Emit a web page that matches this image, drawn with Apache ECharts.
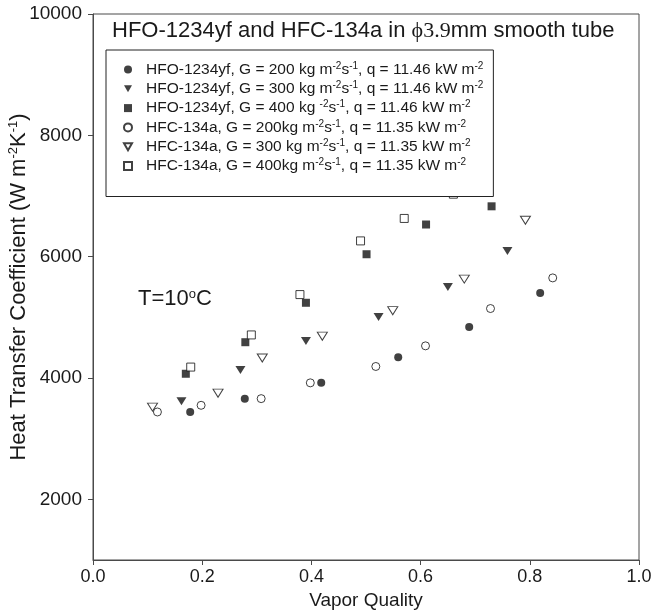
<!DOCTYPE html>
<html>
<head>
<meta charset="utf-8">
<script src="https://cdn.jsdelivr.net/npm/echarts@6/dist/echarts.min.js"></script>
<style>
html,body{margin:0;padding:0;background:#fff;}
#chart{width:651px;height:612px;}
</style>
</head>
<body>
<div id="chart"></div>
<script>
// ---- data ----
const hfo200X = [0.178, 0.278, 0.418, 0.559, 0.689, 0.819];
const hfo200Y = [3440, 3660, 3920, 4340, 4840, 5400];
const hfo300X = [0.162, 0.270, 0.390, 0.523, 0.650, 0.759];
const hfo300Y = [3615, 4130, 4610, 5005, 5500, 6095];
const hfo400X = [0.170, 0.279, 0.390, 0.501, 0.610, 0.730];
const hfo400Y = [4070, 4590, 5240, 6040, 6530, 6830];
const hfc200X = [0.118, 0.198, 0.308, 0.398, 0.518, 0.609, 0.728, 0.842];
const hfc200Y = [3440, 3550, 3660, 3920, 4190, 4530, 5145, 5650];
const hfc300X = [0.109, 0.229, 0.310, 0.420, 0.549, 0.680, 0.792];
const hfc300Y = [3520, 3750, 4330, 4690, 5110, 5630, 6600];
const hfc400X = [0.179, 0.290, 0.379, 0.490, 0.570, 0.660];
const hfc400Y = [4180, 4710, 5375, 6260, 6630, 7030];

const seriesNames = [
  'HFO-1234yf, G = 200 kg m^-2s^-1, q = 11.46 kW m^-2',
  'HFO-1234yf, G = 300 kg m^-2s^-1, q = 11.46 kW m^-2',
  'HFO-1234yf, G = 400 kg ^-2s^-1, q = 11.46 kW m^-2',
  'HFC-134a, G = 200kg m^-2s^-1, q = 11.35 kW m^-2',
  'HFC-134a, G = 300 kg m^-2s^-1, q = 11.35 kW m^-2',
  'HFC-134a, G = 400kg m^-2s^-1, q = 11.35 kW m^-2'
];
const yTicks = [2000, 4000, 6000, 8000, 10000];

// ---- helpers ----
function pairs(xs, ys) { return xs.map((x, i) => [x, ys[i]]); }
function richify(s) { return s.replace(/\^(-\d)/g, '{sup|$1}'); }

const SANS = 'Liberation Sans, Arial, Helvetica, sans-serif';
const INK = '#1a1a1a';
const AXIS = '#4a4a4a';
const DOWN = 'path://M0,0L10,0L5,8.66Z';

const filled = { color: '#111' };
const open = { color: '#fff', borderColor: '#111', borderWidth: 1 };

const seriesDefs = [
  { data: pairs(hfo200X, hfo200Y), symbol: 'circle', size: 8, style: filled },
  { data: pairs(hfo300X, hfo300Y), symbol: DOWN, size: [10, 8], style: filled },
  { data: pairs(hfo400X, hfo400Y), symbol: 'rect', size: 8, style: filled },
  { data: pairs(hfc200X, hfc200Y), symbol: 'circle', size: 8, style: open },
  { data: pairs(hfc300X, hfc300Y), symbol: DOWN, size: [10, 8], style: open },
  { data: pairs(hfc400X, hfc400Y), symbol: 'rect', size: 8, style: open }
];

const chart = echarts.init(document.getElementById('chart'), null, { renderer: 'canvas' });

const option = {
  animation: false,
  backgroundColor: '#fff',
  textStyle: { fontFamily: SANS, color: INK },
  title: {
    text: 'HFO-1234yf and HFC-134a in {s|\u03D53.9}mm smooth tube',
    left: 112, top: 20, padding: 0,
    textStyle: {
      fontFamily: SANS, fontSize: 22, fontWeight: 'normal', color: INK,
      rich: { s: { fontFamily: 'Liberation Serif, Times New Roman, serif', fontSize: 22, color: INK } }
    }
  },
  grid: { left: 93, right: 12, top: 14, bottom: 52, show: true, borderColor: AXIS, borderWidth: 1,
    backgroundColor: 'transparent', containLabel: false, outerBoundsMode: 'none' },
  legend: {
    orient: 'vertical',
    left: 106, top: 50,
    z: 10,
    backgroundColor: '#fff',
    borderColor: '#222', borderWidth: 1,
    padding: [11, 10, 22, 17],
    itemWidth: 8, itemHeight: 8,
    itemGap: 2.3,
    selectedMode: false,
    data: seriesNames,
    formatter: function (name) { return '{g| }' + richify(name); },
    textStyle: {
      fontFamily: SANS, fontSize: 15.5, color: INK, lineHeight: 17,
      rich: {
        g: { width: 9 },
        sup: { fontSize: 10, lineHeight: 10, verticalAlign: 'top', fontFamily: SANS, color: INK }
      }
    }
  },
  graphic: [{
    type: 'text', left: 138, top: 288, z: 5,
    style: {
      text: 'T=10{sup|o}C', fill: INK, font: '22px ' + SANS,
      rich: { sup: { fontSize: 13, verticalAlign: 'top', lineHeight: 13, fill: INK } }
    }
  }],
  xAxis: {
    type: 'value', min: 0, max: 1, interval: 0.2,
    name: 'Vapor Quality', nameLocation: 'middle', nameGap: 31, nameMoveOverlap: false,
    nameTextStyle: { fontSize: 19, color: INK, fontFamily: SANS },
    axisLine: { show: true, lineStyle: { color: AXIS, width: 1 } },
    axisTick: { show: true, length: 5, lineStyle: { color: AXIS } },
    axisLabel: { fontSize: 18, color: INK, margin: 8, fontFamily: SANS,
      formatter: v => v.toFixed(1) },
    splitLine: { show: false }
  },
  yAxis: {
    type: 'value', min: 1000, max: 10000,
    name: 'Heat Transfer Coefficient (W m{sup|-2}K{sup|-1})',
    nameLocation: 'middle', nameGap: 62, nameRotate: 90, nameMoveOverlap: false,
    nameTextStyle: { fontSize: 22, color: INK, fontFamily: SANS, lineHeight: 24,
      rich: { sup: { fontSize: 13, lineHeight: 13, verticalAlign: 'top', color: INK, fontFamily: SANS } } },
    axisLine: { show: true, lineStyle: { color: AXIS, width: 1 } },
    axisTick: { show: true, length: 5, lineStyle: { color: AXIS }, customValues: yTicks },
    axisLabel: { fontSize: 19, color: INK, margin: 11, fontFamily: SANS, customValues: yTicks,
      formatter: v => String(v) },
    splitLine: { show: false }
  },
  series: seriesDefs.map((d, i) => ({
    type: 'scatter',
    name: seriesNames[i],
    data: d.data,
    symbol: d.symbol,
    symbolSize: d.size,
    itemStyle: d.style,
    z: 2,
    emphasis: { disabled: true }
  }))
};

chart.setOption(option);
</script>
</body>
</html>
